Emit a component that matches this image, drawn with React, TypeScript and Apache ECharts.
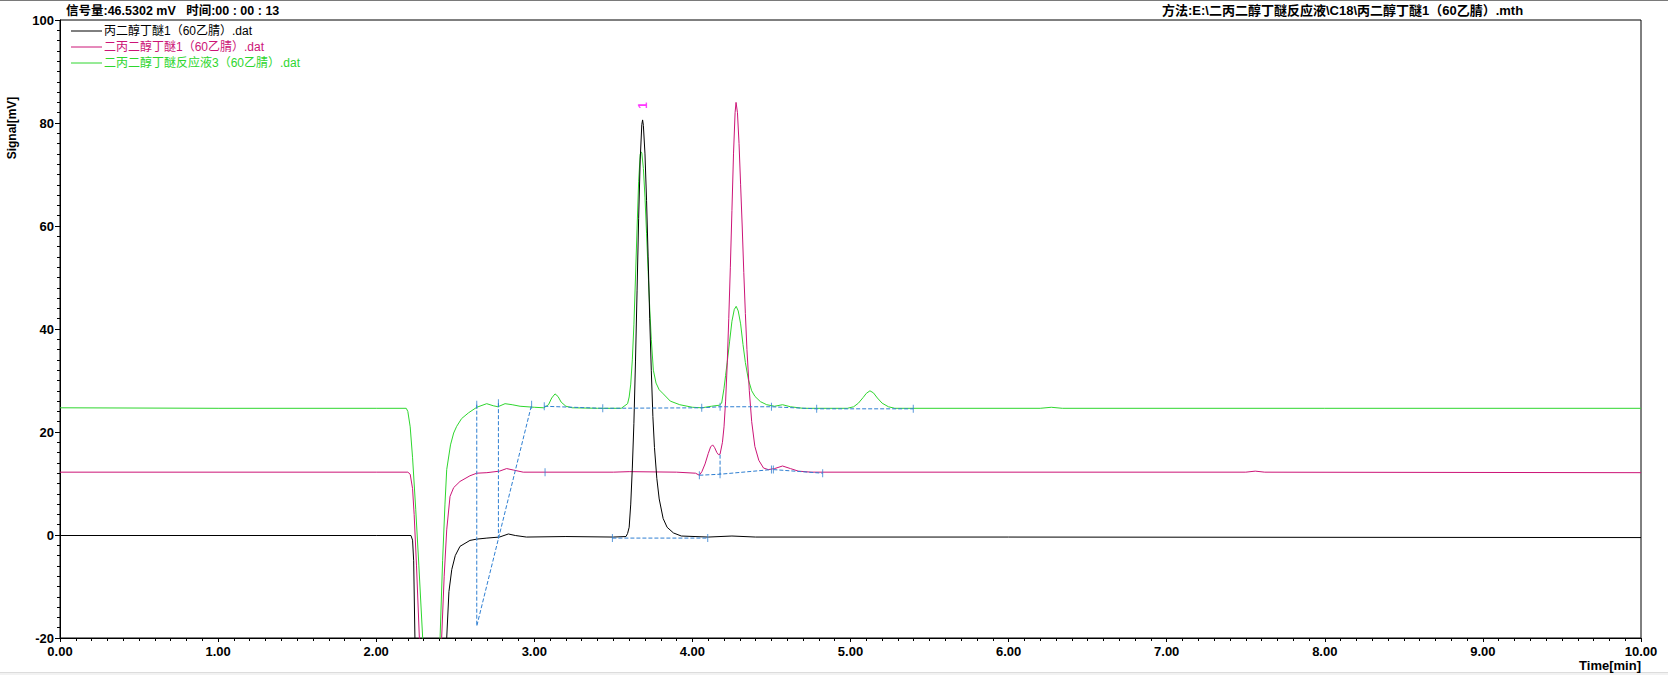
import React, { useEffect, useRef } from "react";
import * as echarts from "echarts";

// ---- Data (time [min], signal [mV]) ----
const blackName = "丙二醇丁醚1（60乙腈）.dat";
const magentaName = "二丙二醇丁醚1（60乙腈）.dat";
const greenName = "二丙二醇丁醚反应液3（60乙腈）.dat";

const headerLeft = "信号量:46.5302 mV   时间:00 : 00 : 13";
const headerRight = "方法:E:\\二丙二醇丁醚反应液\\C18\\丙二醇丁醚1（60乙腈）.mth";

const blackTrace: number[][] = [
  [0, -0.1], [2.0, -0.1], [2.22, -0.1], [2.23, -1], [2.237, -5], [2.245, -20], [2.26, -40],
  [2.43, -40], [2.446, -20], [2.46, -11], [2.478, -6.7], [2.5, -4], [2.53, -2.2], [2.593, -1.05],
  [2.636, -0.8], [2.7, -0.6], [2.78, -0.4], [2.836, 0.2], [2.88, -0.1], [2.95, -0.4], [3.2, -0.3],
  [3.5, -0.4], [3.58, -0.3], [3.59, 0.3], [3.6, 1.5], [3.61, 6], [3.62, 13], [3.63, 21.7],
  [3.64, 33.6], [3.65, 47.4], [3.66, 61.5], [3.67, 73], [3.68, 79.7], [3.685, 80.6], [3.69, 79.5],
  [3.7, 74], [3.71, 65], [3.72, 54], [3.73, 42], [3.74, 32], [3.75, 23], [3.76, 17], [3.775, 11],
  [3.79, 7], [3.815, 3.2], [3.84, 1.5], [3.88, 0.4], [3.93, -0.2], [4.1, -0.4], [4.25, -0.2],
  [4.4, -0.4], [6, -0.4], [10, -0.5],
];

const magentaTrace: number[][] = [
  [0, 12.2], [2.0, 12.2], [2.2, 12.2], [2.215, 11.8], [2.23, 9], [2.24, 4], [2.255, -6],
  [2.273, -20], [2.3, -32], [2.39, -32], [2.414, -20], [2.43, -8], [2.446, 1.0], [2.467, 7.5],
  [2.49, 9.2], [2.53, 10.4], [2.593, 11.5], [2.636, 12.0], [2.7, 12.1], [2.78, 12.4], [2.825, 12.9],
  [2.87, 12.6], [2.93, 12.2], [3.5, 12.2], [3.6, 12.3], [3.9, 12.2], [4.02, 12.0], [4.044, 11.6],
  [4.06, 12.3], [4.08, 13.8], [4.1, 15.8], [4.115, 17.1], [4.128, 17.5], [4.14, 17.0], [4.155, 16.0],
  [4.165, 15.6], [4.175, 15.7], [4.19, 18], [4.2, 21], [4.21, 26], [4.22, 33], [4.23, 42],
  [4.24, 52], [4.25, 63], [4.26, 74], [4.27, 82], [4.276, 84], [4.285, 82], [4.295, 76],
  [4.305, 68], [4.315, 60], [4.325, 51], [4.335, 43], [4.345, 36], [4.36, 28], [4.375, 22],
  [4.395, 17.2], [4.42, 14.5], [4.45, 13.0], [4.48, 12.7], [4.52, 12.9], [4.57, 13.4], [4.62, 12.9],
  [4.67, 12.4], [4.75, 12.2], [7.5, 12.2], [7.56, 12.4], [7.62, 12.2], [10, 12.1],
];

const greenTrace: number[][] = [
  [0, 24.7], [1.0, 24.6], [2.0, 24.6], [2.19, 24.6], [2.2, 24.0], [2.215, 21], [2.23, 15],
  [2.25, 5], [2.27, -6], [2.294, -20], [2.32, -30], [2.36, -32], [2.39, -28], [2.404, -20],
  [2.42, -5], [2.435, 6], [2.446, 12.7], [2.47, 17.5], [2.49, 19.8], [2.509, 21.1], [2.54, 22.6],
  [2.583, 23.7], [2.636, 24.8], [2.699, 25.5], [2.74, 25.1], [2.77, 24.9], [2.815, 25.5],
  [2.86, 25.3], [2.91, 25.0], [3.0, 24.8], [3.06, 24.7], [3.09, 25.3], [3.11, 26.6], [3.131, 27.4],
  [3.15, 26.9], [3.17, 25.8], [3.2, 25.0], [3.24, 24.7], [3.4, 24.6], [3.55, 24.6], [3.59, 25.5],
  [3.6, 26.8], [3.61, 29.3], [3.62, 34], [3.63, 40.8], [3.64, 49.9], [3.65, 59.6], [3.66, 68.7],
  [3.67, 73.9], [3.675, 74.4], [3.68, 74.2], [3.69, 71.2], [3.7, 65.6], [3.71, 58.6], [3.72, 51.2],
  [3.73, 44.1], [3.74, 38], [3.753, 32], [3.77, 29.5], [3.79, 28.2], [3.816, 27.4], [3.86, 26.0],
  [3.92, 25.3], [4.0, 24.8], [4.06, 24.7], [4.12, 25.0], [4.17, 25.2], [4.185, 25.6], [4.2, 28.5],
  [4.21, 31], [4.22, 33.5], [4.235, 37.5], [4.25, 41.5], [4.265, 43.8], [4.277, 44.4], [4.29, 43.5],
  [4.305, 41], [4.32, 37], [4.335, 33.5], [4.354, 30.2], [4.375, 28], [4.396, 26.9], [4.43, 25.9],
  [4.47, 25.3], [4.52, 25.0], [4.57, 25.3], [4.62, 24.9], [4.7, 24.6], [4.98, 24.6], [5.02, 24.9],
  [5.05, 25.6], [5.08, 26.7], [5.1, 27.5], [5.123, 28.0], [5.145, 27.6], [5.17, 26.6], [5.2, 25.6],
  [5.24, 24.9], [5.28, 24.6], [6.2, 24.6], [6.27, 24.8], [6.34, 24.6], [8, 24.6], [10, 24.6],
];

// Integration baselines / drop lines (dashed)
const greenDropDiag: number[][] = [[2.636, 25.3], [2.636, -17.7], [2.983, 25.3]];
const greenDrop2: number[][] = [[2.773, 25.6], [2.773, -0.7]];
const greenBase: number[][] = [
  [3.063, 25.0], [3.433, 24.6], [4.059, 24.7], [4.175, 24.9], [4.5, 24.9], [4.786, 24.5], [5.397, 24.5],
];
const magentaBase1: number[][] = [[4.044, 11.6], [4.175, 11.8], [4.5, 12.7]];
const magentaBase2: number[][] = [[4.512, 12.7], [4.824, 12.0]];
const magentaDrop: number[][] = [[4.175, 15.6], [4.175, 11.8]];
const blackBase: number[][] = [[3.494, -0.6], [4.097, -0.6]];
const baselineTicks: number[][] = [
  [2.636, 25.3], [2.773, 25.6], [2.983, 25.3], [3.063, 25.0], [3.433, 24.6], [4.059, 24.7],
  [4.175, 24.9], [4.5, 24.9], [4.786, 24.5], [5.397, 24.5],
  [3.068, 12.2], [4.044, 11.6], [4.175, 11.8], [4.5, 12.7], [4.512, 12.7], [4.824, 12.0],
  [3.494, -0.6], [4.097, -0.6],
];
const peakLabels: (number | string)[][] = [[3.69, 83.4, "1"]];

const yTicks = { min: -20, max: 100, interval: 20 };
const xTicks = { min: 0, max: 10, interval: 1 };

const COLORS = {
  black: "#000000",
  magenta: "#CC1477",
  green: "#2ED62E",
  blue: "#2F7FD2",
  peak: "#FF00FF",
};

const FONT = "'Liberation Sans', Arial, 'Noto Sans CJK SC', sans-serif";

export default function App() {
  const ref = useRef<HTMLDivElement>(null);

  useEffect(() => {
    document.body.style.margin = "0";
    if (!ref.current) return;
    const chart = echarts.init(ref.current, undefined, { renderer: "svg" });

    const dashed = (data: number[][]) => ({
      type: "line",
      data,
      symbol: "none",
      silent: true,
      z: 5,
      lineStyle: { color: COLORS.blue, width: 1, type: [4, 2] },
    });
    const trace = (data: number[][], color: string, z: number) => ({
      type: "line",
      data,
      symbol: "none",
      silent: true,
      z,
      clip: true,
      lineStyle: { color, width: 1 },
    });

    const legendRows = [
      { name: blackName, color: COLORS.black },
      { name: magentaName, color: COLORS.magenta },
      { name: greenName, color: COLORS.green },
    ];
    const legendGraphics: any[] = [];
    legendRows.forEach((r, i) => {
      const y = 31 + i * 16;
      legendGraphics.push({
        type: "line",
        shape: { x1: 71, y1: y, x2: 102, y2: y },
        style: { stroke: r.color, lineWidth: 1 },
        z: 10,
      });
      legendGraphics.push({
        type: "text",
        x: 104,
        y,
        style: {
          text: r.name,
          fill: r.color,
          fontSize: 12,
          fontFamily: FONT,
          verticalAlign: "middle",
          align: "left",
        },
        z: 10,
      });
    });

    chart.setOption({
      animation: false,
      backgroundColor: "#ffffff",
      grid: {
        left: 60,
        right: 27,
        top: 20,
        bottom: 37,
        show: true,
        borderColor: "#000",
        borderWidth: 1,
        backgroundColor: "transparent",
      },
      xAxis: {
        type: "value",
        min: xTicks.min,
        max: xTicks.max,
        interval: xTicks.interval,
        axisLine: { show: true, onZero: false, lineStyle: { color: "#000", width: 1 } },
        axisTick: { show: true, length: 4, lineStyle: { color: "#000" } },
        minorTick: { show: true, splitNumber: 10, length: 3, lineStyle: { color: "#000" } },
        splitLine: { show: false },
        minorSplitLine: { show: false },
        axisLabel: {
          formatter: (v: number) => v.toFixed(2),
          color: "#000",
          fontWeight: "bold",
          fontSize: 13,
          fontFamily: FONT,
          margin: 7,
        },
      },
      yAxis: {
        type: "value",
        min: yTicks.min,
        max: yTicks.max,
        interval: yTicks.interval,
        axisLine: { show: true, onZero: false, lineStyle: { color: "#000", width: 1 } },
        axisTick: { show: true, length: 5, lineStyle: { color: "#000" } },
        minorTick: { show: true, splitNumber: 10, length: 3, lineStyle: { color: "#000" } },
        splitLine: { show: false },
        minorSplitLine: { show: false },
        axisLabel: {
          color: "#000",
          fontWeight: "bold",
          fontSize: 13,
          fontFamily: FONT,
          margin: 6,
        },
      },
      graphic: [
        { type: "rect", shape: { x: 0, y: 0, width: 1668, height: 1 }, style: { fill: "#7a7a7a" } },
        { type: "rect", shape: { x: 0, y: 672, width: 1668, height: 3 }, style: { fill: "#f2f2f2" } },
        { type: "rect", shape: { x: 0, y: 672, width: 1668, height: 1 }, style: { fill: "#dcdcdc" } },
        {
          type: "text",
          x: 66,
          y: 11,
          style: {
            text: headerLeft,
            fill: "#000",
            fontSize: 12.5,
            fontWeight: "bold",
            fontFamily: FONT,
            verticalAlign: "middle",
            align: "left",
          },
        },
        {
          type: "text",
          x: 1162,
          y: 10,
          style: {
            text: headerRight,
            fill: "#000",
            fontSize: 13,
            fontWeight: "bold",
            fontFamily: FONT,
            verticalAlign: "middle",
            align: "left",
          },
        },
        {
          type: "text",
          x: 12,
          y: 128,
          rotation: Math.PI / 2,
          style: {
            text: "Signal[mV]",
            fill: "#000",
            fontSize: 12,
            fontWeight: "bold",
            fontFamily: FONT,
            verticalAlign: "middle",
            align: "center",
          },
        },
        {
          type: "text",
          x: 1641,
          y: 665,
          style: {
            text: "Time[min]",
            fill: "#000",
            fontSize: 13,
            fontWeight: "bold",
            fontFamily: FONT,
            verticalAlign: "middle",
            align: "right",
          },
        },
        ...legendGraphics,
      ],
      series: [
        trace(greenTrace, COLORS.green, 2),
        trace(magentaTrace, COLORS.magenta, 3),
        trace(blackTrace, COLORS.black, 4),
        dashed(greenDropDiag),
        dashed(greenDrop2),
        dashed(greenBase),
        dashed(magentaBase1),
        dashed(magentaBase2),
        dashed(magentaDrop),
        dashed(blackBase),
        {
          type: "scatter",
          data: baselineTicks,
          symbol: "rect",
          symbolSize: [1, 8],
          silent: true,
          z: 6,
          itemStyle: { color: COLORS.blue },
        },
        {
          type: "scatter",
          data: peakLabels,
          symbolSize: 0,
          silent: true,
          z: 7,
          label: {
            show: true,
            position: "inside",
            formatter: (p: any) => String(p.data[2]),
            rotate: 90,
            color: COLORS.peak,
            fontSize: 12,
            fontWeight: "bold",
            fontFamily: FONT,
          },
        },
      ],
    });

    return () => {
      chart.dispose();
    };
  }, []);

  return <div ref={ref} style={{ width: 1668, height: 675 }} />;
}
